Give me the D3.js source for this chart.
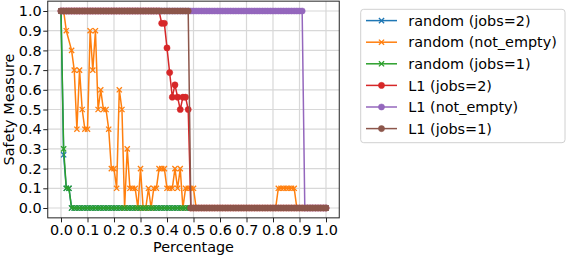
<!DOCTYPE html>
<html>
<head>
<meta charset="utf-8">
<script src="https://cdn.jsdelivr.net/npm/d3@7"></script>
<style>
  html, body { margin: 0; padding: 0; background: #fff; }
  svg { display: block; font-family: "DejaVu Sans", sans-serif; }
</style>
</head>
<body>
<svg id="chart" width="566" height="256"></svg>
<script>
// ---------------- data ----------------
const pct = [
  0.00,0.01,0.02,0.03,0.04,0.05,0.06,0.07,0.08,0.09,
  0.10,0.11,0.12,0.13,0.14,0.15,0.16,0.17,0.18,0.19,
  0.20,0.21,0.22,0.23,0.24,0.25,0.26,0.27,0.28,0.29,
  0.30,0.31,0.32,0.33,0.34,0.35,0.36,0.37,0.38,0.39,
  0.40,0.41,0.42,0.43,0.44,0.45,0.46,0.47,0.48,0.49,
  0.50,0.51,0.52,0.53,0.54,0.55,0.56,0.57,0.58,0.59,
  0.60,0.61,0.62,0.63,0.64,0.65,0.66,0.67,0.68,0.69,
  0.70,0.71,0.72,0.73,0.74,0.75,0.76,0.77,0.78,0.79,
  0.80,0.81,0.82,0.83,0.84,0.85,0.86,0.87,0.88,0.89,
  0.90,0.91,0.92,0.93,0.94,0.95,0.96,0.97,0.98,0.99,
  1.00
];

const randomJobs2 = [
  1.0,0.27,0.1,0.1,0,0,0,0,0,0,
  0,0,0,0,0,0,0,0,0,0,
  0,0,0,0,0,0,0,0,0,0,
  0,0,0,0,0,0,0,0,0,0,
  0,0,0,0,0,0,0,0,0,0,
  0,0,0,0,0,0,0,0,0,0,
  0,0,0,0,0,0,0,0,0,0,
  0,0,0,0,0,0,0,0,0,0,
  0,0,0,0,0,0,0,0,0,0,
  0,0,0,0,0,0,0,0,0,0,
  0
];

const randomNotEmpty = [
  1.0,1.0,0.9,null,0.8,0.7,0.4,0.7,0.5,0.4,
  0.4,0.9,0.7,0.9,0.5,0.6,0.5,0.5,0.4,0.2,
  0.2,0.1,0.6,0.5,0.0,0.3,0.1,0.1,0.1,0.0,
  0.2,0.0,0.0,0.1,0.0,0.1,0.1,0.2,0.2,0.2,
  0.1,0.1,0.1,0.2,0.1,0.2,0.0,0.1,0.1,0.1,
  0.1,0,0,0,0,0,0,0,0,0,
  0,0,0,0,0,0,0,0,0,0,
  0,0,0,0,0,0,0,0,0,0,
  0,0,0.1,0.1,0.1,0.1,0.1,0.1,0.1,0,
  0,0,0,0,0,0,0,0,0,0,
  0
];

const randomJobs1 = [
  1.0,0.3,0.1,0.1,0,0,0,0,0,0,
  0,0,0,0,0,0,0,0,0,0,
  0,0,0,0,0,0,0,0,0,0,
  0,0,0,0,0,0,0,0,0,0,
  0,0,0,0,0,0,0,0,0,0,
  0,0,0,0,0,0,0,0,0,0,
  0,0,0,0,0,0,0,0,0,0,
  0,0,0,0,0,0,0,0,0,0,
  0,0,0,0,0,0,0,0,0,0,
  0,0,0,0,0,0,0,0,0,0,
  0
];

const l1Jobs2 = [
  1,1,1,1,1,1,1,1,1,1,
  1,1,1,1,1,1,1,1,1,1,
  1,1,1,1,1,1,1,1,1,1,
  1,1,1,1,1,1,1,1,0.9375,0.9375,
  0.8125,0.6875,0.5625,0.625,0.5625,0.5,0.5625,0.5625,0.5,0,
  0,0,0,0,0,0,0,0,0,0,
  0,0,0,0,0,0,0,0,0,0,
  0,0,0,0,0,0,0,0,0,0,
  0,0,0,0,0,0,0,0,0,0,
  0,0,0,0,0,0,0,0,0,0,
  0
];

const l1NotEmpty = [
  1,1,1,1,1,1,1,1,1,1,
  1,1,1,1,1,1,1,1,1,1,
  1,1,1,1,1,1,1,1,1,1,
  1,1,1,1,1,1,1,1,1,1,
  1,1,1,1,1,1,1,1,1,1,
  1,1,1,1,1,1,1,1,1,1,
  1,1,1,1,1,1,1,1,1,1,
  1,1,1,1,1,1,1,1,1,1,
  1,1,1,1,1,1,1,1,1,1,
  1,1,0,0,0,0,0,0,0,0,
  0
];

const l1Jobs1 = [
  1,1,1,1,1,1,1,1,1,1,
  1,1,1,1,1,1,1,1,1,1,
  1,1,1,1,1,1,1,1,1,1,
  1,1,1,1,1,1,1,1,1,1,
  1,1,1,1,1,1,1,1,1,0,
  0,0,0,0,0,0,0,0,0,0,
  0,0,0,0,0,0,0,0,0,0,
  0,0,0,0,0,0,0,0,0,0,
  0,0,0,0,0,0,0,0,0,0,
  0,0,0,0,0,0,0,0,0,0,
  0
];

const seriesNames = [
  "random (jobs=2)", "random (not_empty)", "random (jobs=1)",
  "L1 (jobs=2)", "L1 (not_empty)", "L1 (jobs=1)"
];
const seriesValues = [randomJobs2, randomNotEmpty, randomJobs1, l1Jobs2, l1NotEmpty, l1Jobs1];
const seriesMarkers = ["x", "x", "x", "o", "o", "o"];
const seriesColors = ["#1f77b4", "#ff7f0e", "#2ca02c", "#d62728", "#9467bd", "#8c564b"];

const xTicks = [0.0,0.1,0.2,0.3,0.4,0.5,0.6,0.7,0.8,0.9,1.0];
const yTicks = [0.0,0.1,0.2,0.3,0.4,0.5,0.6,0.7,0.8,0.9,1.0];
const xLabel = "Percentage";
const yLabel = "Safety Measure";

// ---------------- layout ----------------
const FS = 14.4;
const plot = { left: 47.75, right: 339.25, top: 1.15, bottom: 217.85 };

const svg = d3.select("#chart");
const x = d3.scaleLinear().domain([-0.05, 1.05]).range([plot.left, plot.right]);
const y = d3.scaleLinear().domain([-0.05, 1.05]).range([plot.bottom, plot.top]);

// grid
const grid = svg.append("g");
grid.selectAll("line.gx").data(xTicks).enter().append("line")
  .attr("x1", d => x(d)).attr("x2", d => x(d))
  .attr("y1", plot.top).attr("y2", plot.bottom)
  .attr("stroke", "#d8d8d8").attr("stroke-width", 1.2);
grid.selectAll("line.gy").data(yTicks).enter().append("line")
  .attr("x1", plot.left).attr("x2", plot.right)
  .attr("y1", d => y(d)).attr("y2", d => y(d))
  .attr("stroke", "#d8d8d8").attr("stroke-width", 1.2);

// series
const clip = svg.append("defs").append("clipPath").attr("id", "clip")
  .append("rect").attr("x", plot.left).attr("y", plot.top - 8)
  .attr("width", plot.right - plot.left + 8).attr("height", plot.bottom - plot.top + 16);

const line = d3.line().x(d => x(d[0])).y(d => y(d[1]));
const xPath = a => `M${-a},${-a}L${a},${a}M${-a},${a}L${a},${-a}`;

const gSeries = svg.append("g");
seriesValues.forEach((vals, si) => {
  const pts = pct.map((p, i) => [p, vals[i]]).filter(d => d[1] !== null);
  const col = seriesColors[si];
  const g = gSeries.append("g");
  g.append("path").attr("d", line(pts)).attr("fill", "none")
    .attr("stroke", col).attr("stroke-width", 1.5).attr("stroke-linejoin", "round");
  if (seriesMarkers[si] === "o") {
    g.selectAll("circle").data(pts).enter().append("circle")
      .attr("cx", d => x(d[0])).attr("cy", d => y(d[1])).attr("r", 3.1)
      .attr("fill", col).attr("stroke", col).attr("stroke-width", 0.5);
  } else {
    g.selectAll("path.m").data(pts).enter().append("path")
      .attr("class", "m")
      .attr("transform", d => `translate(${x(d[0])},${y(d[1])})`)
      .attr("d", xPath(2.6)).attr("fill", "none")
      .attr("stroke", col).attr("stroke-width", 1.3);
  }
});

// spines
svg.append("rect").attr("x", plot.left).attr("y", plot.top)
  .attr("width", plot.right - plot.left).attr("height", plot.bottom - plot.top)
  .attr("fill", "none").attr("stroke", "#222").attr("stroke-width", 1);

// axes
const xAxis = d3.axisBottom(x).tickValues(xTicks).tickFormat(d3.format(".1f"))
  .tickSize(4.5).tickPadding(2);
const yAxis = d3.axisLeft(y).tickValues(yTicks).tickFormat(d3.format(".1f"))
  .tickSize(4.5).tickPadding(1.6);

const gx = svg.append("g").attr("transform", `translate(0,${plot.bottom})`).call(xAxis);
const gy = svg.append("g").attr("transform", `translate(${plot.left},0)`).call(yAxis);
[gx, gy].forEach(g => {
  g.select(".domain").remove();
  g.selectAll("line").attr("stroke", "#222").attr("stroke-width", 1);
  g.selectAll("text").attr("font-size", FS).attr("fill", "#000")
    .attr("font-family", "DejaVu Sans");
});

// axis labels
svg.append("text").attr("x", (plot.left + plot.right) / 2).attr("y", 252.2)
  .attr("text-anchor", "middle").attr("font-size", FS).text(xLabel);
svg.append("text")
  .attr("transform", `translate(13.6,${(plot.top + plot.bottom) / 2}) rotate(-90)`)
  .attr("text-anchor", "middle").attr("font-size", FS).text(yLabel);

// legend
const leg = svg.append("g");
leg.append("rect").attr("x", 360.7).attr("y", 9.3).attr("width", 204.3).attr("height", 133.4)
  .attr("rx", 3).attr("ry", 3)
  .attr("fill", "#fff").attr("fill-opacity", 0.8)
  .attr("stroke", "#d0d0d0").attr("stroke-width", 1);
seriesNames.forEach((name, si) => {
  const cy = 20.6 + 21.6 * si;
  const col = seriesColors[si];
  const r = leg.append("g");
  r.append("line").attr("x1", 366).attr("x2", 397).attr("y1", cy).attr("y2", cy)
    .attr("stroke", col).attr("stroke-width", 1.5);
  if (seriesMarkers[si] === "o") {
    r.append("circle").attr("cx", 381.5).attr("cy", cy).attr("r", 3.1)
      .attr("fill", col).attr("stroke", col).attr("stroke-width", 0.5);
  } else {
    r.append("path").attr("transform", `translate(381.5,${cy})`).attr("d", xPath(2.6))
      .attr("stroke", col).attr("stroke-width", 1.3).attr("fill", "none");
  }
  r.append("text").attr("x", 408.3).attr("y", cy).attr("dy", "0.36em")
    .attr("font-size", FS).text(name);
});
</script>
</body>
</html>
